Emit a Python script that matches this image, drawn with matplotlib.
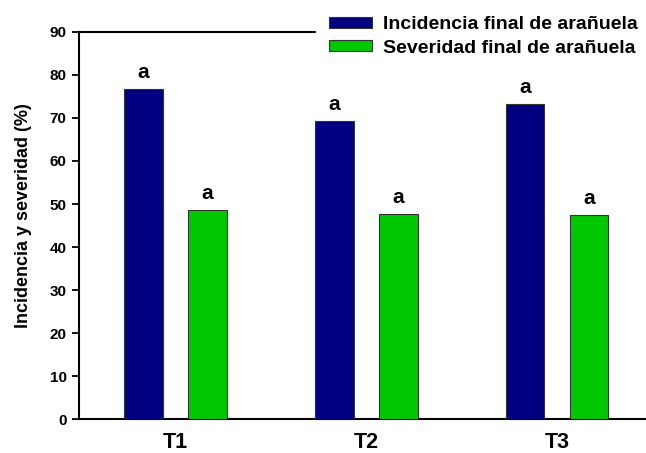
import matplotlib
matplotlib.use("Agg")
import matplotlib.pyplot as plt
import numpy as np

plt.rcParams['font.family'] = ['Liberation Sans', 'DejaVu Sans']
plt.rcParams['font.weight'] = 'bold'

treatments = ["T1", "T2", "T3"]
incidencia = [76.7, 69.4, 73.2]
severidad = [48.7, 47.7, 47.4]
letters_inc = ["a", "a", "a"]
letters_sev = ["a", "a", "a"]
yticks = [0, 10, 20, 30, 40, 50, 60, 70, 80, 90]

W, H = 646, 453
fig = plt.figure(figsize=(W / 100, H / 100), dpi=100)
ax = fig.add_axes([0.1223, 0.0750, 0.8777, 0.8544])

x = np.arange(len(treatments))
w = 0.204
off = 0.1675
b1 = ax.bar(x - off, incidencia, w, color="#000080", edgecolor="#333333",
            linewidth=0.8, label="Incidencia final de arañuela", zorder=2)
b2 = ax.bar(x + off, severidad, w, color="#00C800", edgecolor="#333333",
            linewidth=0.8, label="Severidad final de arañuela", zorder=2)

for bars, letters in ((b1, letters_inc), (b2, letters_sev)):
    for rect, lt in zip(bars, letters):
        ax.annotate(lt, (rect.get_x() + rect.get_width() / 2, rect.get_height()),
                    xytext=(0, 5), textcoords="offset points",
                    ha="center", va="bottom", fontsize=15, fontweight="bold")

ax.set_xlim(-0.503, 2.466)
ax.set_ylim(0, 90)
ax.set_yticks(yticks)
ax.set_yticklabels([str(v) for v in yticks], fontsize=11, fontweight="bold")
ax.set_xticks(x)
ax.set_xticklabels(treatments, fontsize=15.5, fontweight="bold")
ax.tick_params(axis="x", length=0, pad=9)
ax.tick_params(axis="y", direction="out", length=5, width=1.3, pad=4)
ax.set_ylabel("Incidencia y severidad (%)", fontsize=13, fontweight="bold")
ax.yaxis.set_label_coords(-0.083, 0.526)

ax.spines["right"].set_visible(False)
for s in ("left", "bottom", "top"):
    ax.spines[s].set_linewidth(1.5)
    ax.spines[s].set_zorder(1)

# legend panel spans to the right edge and hides the top spine behind it
leg = fig.legend(loc="upper left", bbox_to_anchor=(316 / W, 1 - 8 / H, 1 - 316 / W, 0.01),
                 mode="expand", borderaxespad=0, frameon=True,
                 fontsize=14, handlelength=2.25, handleheight=0.52,
                 handletextpad=0.55, labelspacing=0.33, borderpad=0.65)
leg.get_frame().set_facecolor("white")
leg.get_frame().set_edgecolor("white")
leg.get_frame().set_alpha(1)
leg.get_frame().set_boxstyle("square", pad=0)
for t in leg.get_texts():
    t.set_fontweight("bold")

fig.savefig("out.png", dpi=100)
